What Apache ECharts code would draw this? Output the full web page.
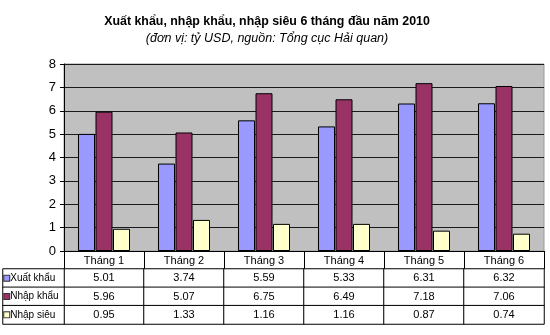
<!DOCTYPE html>
<html><head><meta charset="utf-8">
<script src="https://cdn.jsdelivr.net/npm/echarts@6/dist/echarts.min.js"></script>
<style>html,body{margin:0;padding:0;background:#fff}#c{width:550px;height:335px}</style>
</head><body><div id="c"></div>
<script>
var months = ['Tháng 1','Tháng 2','Tháng 3','Tháng 4','Tháng 5','Tháng 6'];
var seriesNames = ['Xuất khẩu','Nhập khẩu','Nhập siêu'];
var xuatKhau = [5.01, 3.74, 5.59, 5.33, 6.31, 6.32];
var nhapKhau = [5.96, 5.07, 6.75, 6.49, 7.18, 7.06];
var nhapSieu = [0.95, 1.33, 1.16, 1.16, 0.87, 0.74];
var colors = ['#9999ff', '#993366', '#ffffcc'];
var yTicks = [0,1,2,3,4,5,6,7,8];

var allValues = [xuatKhau, nhapKhau, nhapSieu];
var font = '"Liberation Sans", Arial, sans-serif';

var tableData = [];
allValues.forEach(function(arr, s){ arr.forEach(function(v, m){ tableData.push([m, s, v]); }); });
var labelData = seriesNames.map(function(n, s){ return [0, s, 0]; });

var rich = {};
colors.forEach(function(c, i){ rich['sq'+i] = {width:5, height:5, backgroundColor:c, borderColor:'#333', borderWidth:1}; });
rich.t = {fontSize:10, fontFamily:font, color:'#000', padding:[0,0,0,1]};

var chart = echarts.init(document.getElementById('c'), null, {renderer:'canvas'});
chart.setOption({
  animation:false,
  backgroundColor:'#fff',
  title:[
    {text:'Xuất khẩu, nhập khẩu, nhập siêu 6 tháng đầu năm 2010', left:262, textAlign:'center', top:10,
     textStyle:{fontSize:12.4, fontWeight:'bold', fontFamily:font, color:'#000', lineHeight:14}},
    {text:'(đơn vị: tỷ USD, nguồn: Tổng cục Hải quan)', left:262, textAlign:'center', top:27,
     textStyle:{fontSize:12.5, fontStyle:'italic', fontWeight:'normal', fontFamily:font, color:'#000', lineHeight:14}}
  ],
  grid:[
    {left:64, right:6, top:64, bottom:84, show:true, backgroundColor:'#c0c0c0', borderColor:'#9a9a9a', borderWidth:1},
    {left:64, right:6, top:269, height:55},
    {left:3, width:61, top:269, height:55}
  ],
  xAxis:[
    {type:'category', data:months, gridIndex:0,
     axisLine:{lineStyle:{color:'#000', width:1}},
     axisTick:{show:true, length:18, alignWithLabel:false, interval:0, lineStyle:{color:'#000'}},
     axisLabel:{margin:4, fontSize:11, fontFamily:font, color:'#000', interval:0}},
    {type:'category', data:months, gridIndex:1, show:false},
    {type:'category', data:[''], gridIndex:2, show:false}
  ],
  yAxis:[
    {type:'value', min:0, max:8, interval:1, gridIndex:0,
     axisLine:{show:true, lineStyle:{color:'#000'}},
     axisTick:{show:true, length:4, lineStyle:{color:'#000'}},
     axisLabel:{fontSize:13, fontFamily:font, color:'#000', margin:8,
       formatter:function(v){ return yTicks.indexOf(v) >= 0 ? String(v) : ''; }},
     splitLine:{show:true, lineStyle:{color:'#1a1a1a', width:1}}},
    {type:'category', data:seriesNames, gridIndex:1, inverse:true, show:false},
    {type:'category', data:seriesNames, gridIndex:2, inverse:true, show:false}
  ],
  series:[
    {type:'bar', name:seriesNames[0], data:xuatKhau, barWidth:17, barGap:'3%',
     itemStyle:{color:colors[0], borderColor:'#000', borderWidth:1}},
    {type:'bar', name:seriesNames[1], data:nhapKhau, barWidth:17, barGap:'3%',
     itemStyle:{color:colors[1], borderColor:'#000', borderWidth:1}},
    {type:'bar', name:seriesNames[2], data:nhapSieu, barWidth:17, barGap:'3%',
     itemStyle:{color:colors[2], borderColor:'#000', borderWidth:1}},
    {type:'heatmap', xAxisIndex:1, yAxisIndex:1, data:tableData,
     itemStyle:{color:'#fff', borderColor:'#000', borderWidth:1},
     label:{show:true, fontSize:11, fontFamily:font, color:'#000',
       formatter:function(p){ return p.value[2].toFixed(2); }},
     emphasis:{disabled:true}},
    {type:'heatmap', xAxisIndex:2, yAxisIndex:2, data:labelData,
     itemStyle:{color:'#fff', borderColor:'#000', borderWidth:1},
     label:{show:true, position:[2,'50%'], align:'left', verticalAlign:'middle',
       formatter:function(p){ var s = p.value[1]; return '{sq'+s+'|}{t|'+seriesNames[s]+'}'; }, rich:rich},
     emphasis:{disabled:true}}
  ]
});
</script></body></html>
